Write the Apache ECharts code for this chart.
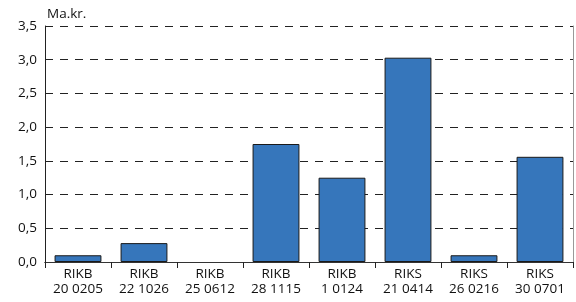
<!DOCTYPE html>
<html>
<head>
<meta charset="utf-8">
<script src="https://cdn.jsdelivr.net/npm/echarts@6/dist/echarts.min.js"></script>
<style>
  html, body { margin: 0; padding: 0; background: #fff; }
  #chart { width: 576px; height: 302px; }
</style>
</head>
<body>
<div id="chart"></div>
<script>
var categories = ["RIKB\n20 0205", "RIKB\n22 1026", "RIKB\n25 0612", "RIKB\n28 1115",
                  "RIKB\n1 0124", "RIKS\n21 0414", "RIKS\n26 0216", "RIKS\n30 0701"];
var values = [0.1, 0.28, 0, 1.75, 1.25, 3.03, 0.1, 1.56];
var yUnit = "Ma.kr.";

var chart = echarts.init(document.getElementById("chart"));
var font = "Open Sans";

// zero bars get no outline so nothing shows on the axis
var barData = values.map(function (v) {
  return v === 0 ? { value: v, itemStyle: { borderWidth: 0 } } : v;
});

chart.setOption({
  animation: false,
  grid: { left: 45, right: 3, top: 26, bottom: 40 },
  xAxis: [
    {
      type: "category",
      data: categories,
      axisLine: { lineStyle: { color: "#222", width: 1 } },
      axisTick: { show: true, length: 6, lineStyle: { color: "#222" } },
      axisLabel: { color: "#111", fontSize: 13.5, fontFamily: font, lineHeight: 15, margin: 5 }
    },
    {
      type: "category",
      position: "top",
      data: categories,
      axisLine: { lineStyle: { color: "#333", width: 1 } },
      axisTick: { show: false },
      axisLabel: { show: false }
    }
  ],
  yAxis: [
    {
      type: "value",
      min: 0,
      max: 3.5,
      interval: 0.5,
      name: yUnit,
      nameLocation: "end",
      nameGap: 5,
      nameTextStyle: { color: "#111", fontSize: 13.5, fontFamily: font, align: "left", padding: [0, 0, 0, 2] },
      axisLine: { show: true, lineStyle: { color: "#222" } },
      axisTick: { show: false },
      splitLine: { lineStyle: { color: "#222", type: [8, 7], width: 1 } },
      axisLabel: {
        color: "#111", fontSize: 13.5, fontFamily: font, margin: 8,
        formatter: function (v) { return v.toFixed(1).replace(".", ","); }
      }
    },
    {
      type: "value",
      position: "right",
      min: 0,
      max: 3.5,
      interval: 0.5,
      axisLine: { show: true, lineStyle: { color: "#999" } },
      axisTick: { show: false },
      splitLine: { show: false },
      axisLabel: { show: false }
    }
  ],
  series: [
    {
      type: "bar",
      data: barData,
      barCategoryGap: "29%",
      itemStyle: { color: "#3676bb", borderColor: "#1a1a1a", borderWidth: 1 }
    }
  ]
});
</script>
</body>
</html>
